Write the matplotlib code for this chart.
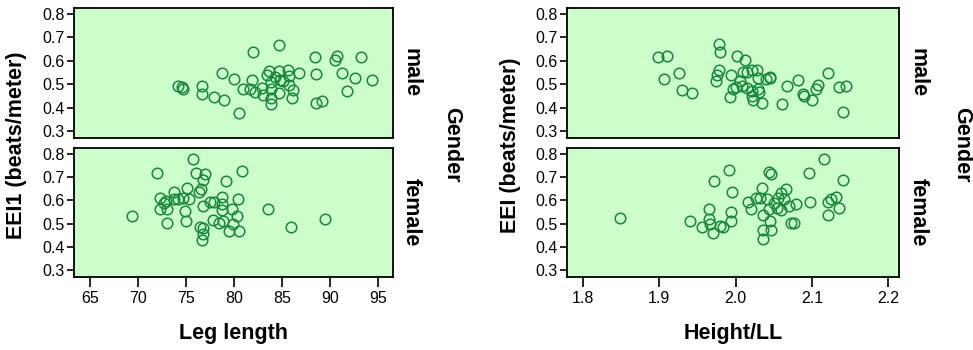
import matplotlib
matplotlib.use("Agg")
import matplotlib.pyplot as plt

plt.rcParams['font.family'] = ['Liberation Sans', 'DejaVu Sans']

# leg length vs EEI1, male
leg_male = [74.2, 74.55, 74.7, 76.7, 76.7, 77.95, 78.96, 78.7, 80.0, 80.5,
            82.0, 80.9, 81.9, 81.7, 82.2, 82.95, 83.0, 83.65, 83.45, 83.85,
            83.85, 83.85, 83.85, 84.7, 84.7, 84.3, 84.8, 84.7, 85.1, 85.6,
            85.7, 85.7, 86.2, 86.1, 86.8, 88.5, 88.6, 88.6, 89.2, 90.5,
            90.8, 91.3, 91.8, 92.6, 93.3, 94.4]
eei1_male = [0.494, 0.487, 0.480, 0.491, 0.459, 0.446, 0.432, 0.548, 0.524, 0.378,
             0.636, 0.481, 0.520, 0.480, 0.466, 0.484, 0.453, 0.558, 0.541, 0.511,
             0.480, 0.442, 0.416, 0.668, 0.558, 0.531, 0.520, 0.463, 0.512, 0.559,
             0.537, 0.497, 0.476, 0.442, 0.548, 0.616, 0.545, 0.419, 0.429, 0.605,
             0.619, 0.546, 0.473, 0.527, 0.616, 0.520]

# leg length vs EEI1, female
leg_female = [69.4, 72.0, 72.3, 72.3, 72.7, 72.9, 73.05, 73.0, 73.7, 73.7,
              74.2, 74.7, 75.1, 75.35, 74.9, 74.95, 75.7, 76.0, 76.3, 76.6,
              76.8, 77.0, 76.8, 76.5, 76.8, 76.8, 76.7, 77.5, 77.95, 77.85,
              78.4, 78.8, 78.8, 78.8, 78.9, 79.2, 79.5, 79.8, 79.9, 80.35,
              80.4, 80.5, 80.8, 83.5, 86.0, 89.5]
eei1_female = [0.534, 0.716, 0.612, 0.562, 0.590, 0.597, 0.565, 0.501, 0.636, 0.607,
               0.607, 0.612, 0.651, 0.607, 0.555, 0.510, 0.775, 0.718, 0.636, 0.647,
               0.687, 0.711, 0.576, 0.488, 0.481, 0.456, 0.430, 0.593, 0.593, 0.517,
               0.505, 0.614, 0.583, 0.559, 0.512, 0.682, 0.470, 0.562, 0.498, 0.534,
               0.605, 0.470, 0.726, 0.561, 0.486, 0.522]

# height/LL vs EEI, male
hll_male = [1.898, 1.910, 1.906, 1.926, 1.930, 1.943, 1.978, 1.980, 1.978, 1.975,
            1.974, 2.002, 2.012, 1.994, 2.009, 2.015, 2.021, 2.028, 2.029, 2.040,
            2.045, 2.045, 2.006, 2.000, 1.997, 2.008, 2.015, 2.021, 2.021, 2.023,
            2.029, 2.030, 1.993, 2.034, 2.061, 2.067, 2.082, 2.088, 2.089, 2.100,
            2.105, 2.108, 2.121, 2.135, 2.145, 2.140]
eei_male = [0.616, 0.619, 0.522, 0.548, 0.474, 0.463, 0.671, 0.636, 0.562, 0.541,
            0.515, 0.619, 0.605, 0.541, 0.551, 0.551, 0.562, 0.559, 0.527, 0.524,
            0.531, 0.525, 0.514, 0.488, 0.480, 0.491, 0.484, 0.470, 0.452, 0.435,
            0.480, 0.466, 0.444, 0.420, 0.416, 0.494, 0.520, 0.459, 0.449, 0.432,
            0.480, 0.497, 0.548, 0.488, 0.491, 0.381]

# height/LL vs EEI, female
hll_female = [1.848, 1.940, 1.956, 1.965, 1.965, 1.967, 1.970, 1.971, 1.980, 1.983,
              1.991, 1.994, 1.994, 1.995, 2.016, 2.020, 2.026, 2.032, 2.034, 2.036,
              2.036, 2.036, 2.041, 2.045, 2.046, 2.044, 2.046, 2.044, 2.050, 2.054,
              2.056, 2.059, 2.060, 2.063, 2.066, 2.070, 2.079, 2.073, 2.076, 2.096,
              2.098, 2.116, 2.121, 2.121, 2.125, 2.132, 2.135, 2.140]
eei_female = [0.524, 0.511, 0.488, 0.562, 0.520, 0.498, 0.460, 0.684, 0.491, 0.484,
              0.728, 0.551, 0.511, 0.637, 0.593, 0.562, 0.609, 0.612, 0.654, 0.537,
              0.474, 0.435, 0.605, 0.512, 0.474, 0.721, 0.712, 0.565, 0.590, 0.569,
              0.612, 0.559, 0.633, 0.605, 0.650, 0.576, 0.583, 0.503, 0.505, 0.719,
              0.595, 0.777, 0.537, 0.595, 0.605, 0.616, 0.568, 0.685]

y_ticks = [0.3, 0.4, 0.5, 0.6, 0.7, 0.8]
leg_ticks = [65, 70, 75, 80, 85, 90, 95]
hll_ticks = [1.8, 1.9, 2.0, 2.1, 2.2]

bg = '#ccffcc'
green = '#17893b'

fig = plt.figure(figsize=(9.73, 3.5), dpi=100)

W, H = 973.0, 350.0


def make_ax(x0, x1, y0, y1):
    return fig.add_axes([x0 / W, 1 - y1 / H, (x1 - x0) / W, (y1 - y0) / H])


panels = [
    (74, 393, leg_male, eei1_male, leg_female, eei1_female, (63.3, 96.6), leg_ticks,
     None, 'EEI1 (beats/meter)', 'Leg length', 17, 411, 452),
    (567, 899, hll_male, eei_male, hll_female, eei_female, (1.779, 2.214), hll_ticks,
     '%.1f', 'EEI (beats/meter)', 'Height/LL', 511, 918, 962),
]

for (x0, x1, xm, ym, xf, yf, xlim, xticks, fmt, ylab, xlab, ylab_x, sex_x, gen_x) in panels:
    for (yt, yb, xs, ys, sex) in [(8, 138, xm, ym, 'male'), (148, 277, xf, yf, 'female')]:
        ax = make_ax(x0, x1, yt, yb)
        ax.set_facecolor(bg)
        ax.plot(xs, ys, 'o', ms=7.6, mfc='none', mec=green, mew=1.1)
        ax.set_xlim(*xlim)
        ax.set_ylim(0.272, 0.824)
        ax.set_yticks(y_ticks)
        ax.set_yticklabels([f'{t:.1f}' for t in y_ticks])
        ax.tick_params(axis='y', length=5, width=1.2, labelsize=11.5, pad=2)
        for s in ax.spines.values():
            s.set_linewidth(1.3)
        if sex == 'male':
            ax.set_xticks([])
        else:
            ax.set_xticks(xticks)
            if fmt:
                ax.set_xticklabels([fmt % t for t in xticks])
            ax.tick_params(axis='x', length=7, width=1.2, labelsize=11.5, pad=3)
        fig.text(sex_x / W, 1 - ((yt + yb) / 2) / H, sex, rotation=-90,
                 ha='center', va='center', fontsize=15.5, fontweight='bold')
    fig.text(gen_x / W, 1 - 145 / H, 'Gender', rotation=-90, ha='center', va='center',
             fontsize=15.5, fontweight='bold')
    fig.text(ylab_x / W, 1 - 145 / H, ylab, rotation=90, ha='center', va='center',
             fontsize=15.5, fontweight='bold')
    fig.text(((x0 + x1) / 2) / W, 1 - 334 / H, xlab, ha='center', va='center',
             fontsize=15.5, fontweight='bold')

fig.savefig('out.png', dpi=100)
